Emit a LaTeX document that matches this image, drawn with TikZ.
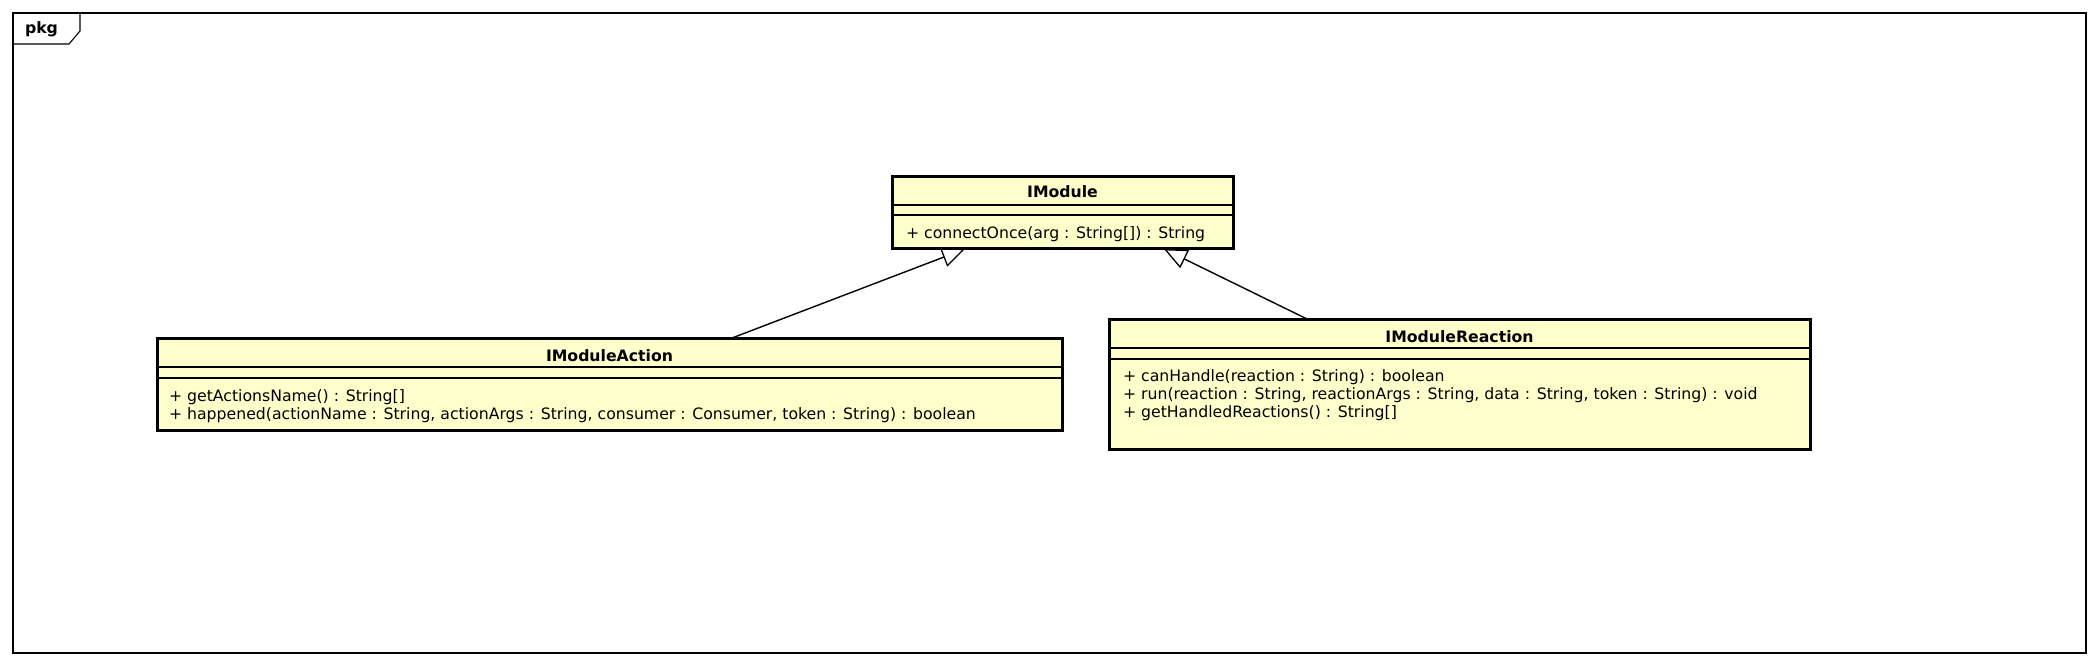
\documentclass[tikz,border=0pt]{standalone}
\usepackage{fontspec}
\setmainfont{DejaVu Sans}
\usetikzlibrary{arrows.meta}
\definecolor{clsfill}{RGB}{255,255,204}
\begin{document}
\begin{tikzpicture}[x=1pt,y=-1pt,
  every node/.style={inner sep=0pt,outer sep=0pt},
  txt/.style={font=\fontsize{15.7}{18}\selectfont,anchor=base west},
  ttl/.style={font=\fontsize{15.7}{18}\selectfont\bfseries,anchor=base},
  clsbox/.style={draw,line width=3pt,fill=clsfill},
  sep/.style={line width=1.2pt},
  gen/.style={line width=1.4pt,-{Triangle[open,length=23pt,width=20pt,line width=1.3pt]}}]
\useasboundingbox (0,0) rectangle (2100,666);
% frame
\draw[line width=1.1pt] (13,13) rectangle (2086,653);
\draw[line width=1.1pt] (13,44) -- (69,44) -- (80,31) -- (80,13);
\node[ttl] (pkg) at (41.5,34) {pkg};
% IModule
\draw[clsbox] (892,176) rectangle (1233,248);
\draw[sep] (892,205) -- (1233,205);
\draw[sep] (892,215) -- (1233,215);
\node[ttl] (imt) at (1062.5,197) {IModule};
\node[txt] (imm) at (906,238) {+ connectOnce(arg : String[]) : String};
% IModuleAction
\draw[clsbox] (157,338) rectangle (1062,430);
\draw[sep] (157,367) -- (1062,367);
\draw[sep] (157,378) -- (1062,378);
\node[ttl] (iat) at (609.5,361) {IModuleAction};
\node[txt] (iam1) at (169,401) {+ getActionsName() : String[]};
\node[txt] (iam2) at (169,419) {+ happened(actionName : String, actionArgs : String, consumer : Consumer, token : String) : boolean};
% IModuleReaction
\draw[clsbox] (1109,319) rectangle (1810,449);
\draw[sep] (1109,348) -- (1810,348);
\draw[sep] (1109,359) -- (1810,359);
\node[ttl] (irt) at (1459.5,342) {IModuleReaction};
\node[txt] (irm1) at (1123,381) {+ canHandle(reaction : String) : boolean};
\node[txt] (irm2) at (1123,399) {+ run(reaction : String, reactionArgs : String, data : String, token : String) : void};
\node[txt] (irm3) at (1123,417) {+ getHandledReactions() : String[]};
% generalizations
\coordinate (a1) at (732,338);
\coordinate (a2) at (965,249);
\coordinate (b1) at (1307,319);
\coordinate (b2) at (1164,249);
\draw[gen] (a1) -- (a2);
\draw[gen] (b1) -- (b2);
\end{tikzpicture}
\end{document}
